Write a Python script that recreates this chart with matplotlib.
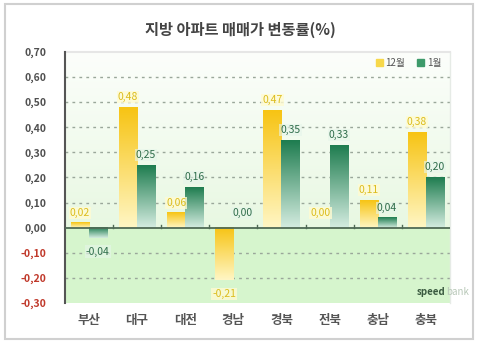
import numpy as np
import matplotlib
matplotlib.use('Agg')
from matplotlib import pyplot as plt
from matplotlib.colors import LinearSegmentedColormap
from matplotlib.patches import Rectangle

plt.rcParams['font.family'] = ['Noto Sans CJK KR', 'DejaVu Sans']

regions = ['부산', '대구', '대전', '경남', '경북', '전북', '충남', '충북']
dec_vals = [0.02, 0.48, 0.06, -0.21, 0.47, 0.00, 0.11, 0.38]   # 12월
jan_vals = [-0.04, 0.25, 0.16, 0.00, 0.35, 0.33, 0.04, 0.20]   # 1월
yticks = [-0.3, -0.2, -0.1, 0.0, 0.1, 0.2, 0.3, 0.4, 0.5, 0.6, 0.7]

fig = plt.figure(figsize=(4.8, 3.49), dpi=100)
fig.patches.append(Rectangle((0.0104, 0.0287), 0.975, 0.96, transform=fig.transFigure,
                             fill=False, edgecolor='#d0d0d0', linewidth=1.5))
ax = fig.add_axes([0.135, 0.132, 0.8025, 0.719])

x = np.arange(len(regions))
w = 0.375
ymin, ymax = -0.3, 0.7

# background
bg_top = LinearSegmentedColormap.from_list('bgt', ['#e8f8e2', '#fcfefb'])
ax.imshow(np.linspace(0, 1, 100).reshape(-1, 1), cmap=bg_top, origin='lower',
          extent=[-0.5, 7.5, 0, ymax], aspect='auto', zorder=0)
ax.axhspan(ymin, 0, color='#d6f5cd', zorder=0)

yel = LinearSegmentedColormap.from_list('yel', ['#fff6c4', '#f7c414'])
grn = LinearSegmentedColormap.from_list('grn', ['#d4ece0', '#1f7d50'])
grad = np.linspace(0, 1, 100).reshape(-1, 1)

def gbar(xc, v, cmap):
    if v == 0:
        return
    lo, hi = min(0, v), max(0, v)
    ax.imshow(grad, cmap=cmap, origin='lower', extent=[xc - w / 2, xc + w / 2, lo, hi],
              aspect='auto', zorder=3)

for i in range(len(regions)):
    gbar(x[i] - w / 2, dec_vals[i], yel)
    gbar(x[i] + w / 2, jan_vals[i], grn)

# invisible bars for the legend
b1 = ax.bar(x - w / 2, dec_vals, w, color='#f7c414', alpha=0, label='12월')
b2 = ax.bar(x + w / 2, jan_vals, w, color='#2e8b57', alpha=0, label='1월')

for yv in yticks:
    if yv != 0 and yv != ymax and yv != ymin:
        ax.axhline(yv, color='#9aa79a', linestyle=(0, (2, 3)), linewidth=1, zorder=1)
ax.axhline(0, color='#4f6a55', linewidth=1.3, zorder=4)
for b in np.arange(0.5, 7.5, 1):
    ax.plot([b, b], [0, 0.012], color='#4f6a55', linewidth=1, zorder=4)

def lab(v):
    return ('%.2f' % v).replace('.', ',')

for i in range(len(regions)):
    v = dec_vals[i]
    if v > 0:
        yy, va = v + 0.02, 'bottom'
    elif v < 0:
        yy, va = v - 0.035, 'top'
    else:
        yy, va = 0.04, 'bottom'
    ax.text(x[i] - w / 2, yy, lab(v), ha='center', va=va,
            fontsize=7.5, color='#dcbc1c', zorder=6,
            bbox=dict(boxstyle='square,pad=0.1', facecolor='#fffbd2', edgecolor='none', alpha=0.8))
    v = jan_vals[i]
    if v > 0:
        yy, va = v + 0.02, 'bottom'
    elif v < 0:
        yy, va = -0.075, 'top'
    else:
        yy, va = 0.04, 'bottom'
    ax.text(x[i] + w / 2, yy, lab(v), ha='center', va=va,
            fontsize=7.5, color='#2f6d4b', zorder=6,
            bbox=dict(boxstyle='square,pad=0.1', facecolor='#e6f5ea', edgecolor='none', alpha=0.6))

ax.set_xlim(-0.5, 7.5)
ax.set_ylim(ymin, ymax)
ax.set_yticks(yticks)
ax.set_yticklabels([lab(v) for v in yticks], fontsize=7.5, fontweight='bold')
for t, v in zip(ax.get_yticklabels(), yticks):
    t.set_color('#c0392b' if v < 0 else '#505050')
ax.tick_params(axis='y', length=0, pad=13)
ax.set_xticks(x)
ax.set_xticklabels(regions, fontsize=9, color='#555555', fontweight='bold')
ax.tick_params(axis='x', length=0, pad=8)

for s in ['top', 'right', 'bottom']:
    ax.spines[s].set_visible(False)
ax.spines['left'].set_color('#555555')
ax.spines['left'].set_linewidth(1.5)
ax.plot([7.5, 7.5], [ymin, ymax], color='#e6ebe6', linewidth=1, zorder=2, clip_on=False)
ax.plot([-0.5, 7.5], [ymax, ymax], color='#e6e6e6', linewidth=1.5, zorder=2, clip_on=False)

leg = ax.legend(loc='upper right', frameon=False, fontsize=7, handlelength=0.7,
                handleheight=0.7, handletextpad=0.3, columnspacing=1.2, ncol=2,
                bbox_to_anchor=(1.0, 1.01))
for h, c in zip(leg.legend_handles, ['#f7d84a', '#3d9a6a']):
    h.set_alpha(1)
    h.set_color(c)
for t in leg.get_texts():
    t.set_color('#555555')

ax.text(7.4, -0.275, 'speed', ha='right', va='bottom', fontsize=7, color='#3a5a40',
        fontweight='bold', zorder=6)
ax.text(7.42, -0.275, 'bank', ha='left', va='bottom', fontsize=7, color='#b8c8b8', zorder=6)

fig.text(0.5, 0.915, '지방 아파트 매매가 변동률(%)', ha='center', va='center',
         fontsize=11, color='#444444', fontweight='bold')

fig.savefig('out.png', dpi=100)
